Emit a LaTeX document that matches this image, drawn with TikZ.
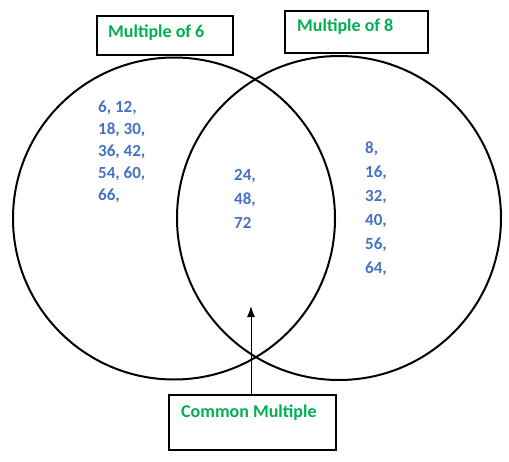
\documentclass[tikz,border=0pt]{standalone}
\usepackage{fontspec}
\setmainfont{Carlito}
\usetikzlibrary{arrows.meta}
\definecolor{grn}{HTML}{00B050}
\definecolor{blu}{HTML}{4472C4}
\tikzset{
  labelbox/.style={draw=black, line width=1.5pt, inner sep=0pt, anchor=north west},
  ring/.style={draw=black, line width=2pt, circle, inner sep=0pt},
  gtext/.style={text=grn, font=\fontsize{18}{20}\selectfont\bfseries, anchor=base west, inner sep=0pt},
  btext/.style={text=blu, font=\fontsize{17}{19}\selectfont\bfseries, anchor=base west, inner sep=0pt},
}
\begin{document}
\begin{tikzpicture}[x=1pt,y=-1pt]
\useasboundingbox (0,0) rectangle (509,461);
% circles
\node[ring, minimum size=322pt] (L) at (174,218.5) {};
\node[ring, minimum size=324pt] (R) at (339,218) {};
% boxes
\node[labelbox, minimum width=136pt, minimum height=39pt] (b6) at (96,15) {};
\node[labelbox, minimum width=143pt, minimum height=42pt] (b8) at (284,10) {};
\node[labelbox, minimum width=167pt, minimum height=55pt] (bc) at (168,394) {};
\node[gtext] (t6) at (108,37) {Multiple of 6};
\node[gtext] (t8) at (297,31) {Multiple of 8};
\node[gtext] (tc) at (181,417) {Common Multiple};
% left numbers
\node[btext] (l1) at (98,112) {6, 12,};
\node[btext] (l2) at (98,134) {18, 30,};
\node[btext] (l3) at (98,156) {36, 42,};
\node[btext] (l4) at (98,178) {54, 60,};
\node[btext] (l5) at (98,200) {66,};
% middle numbers
\node[btext] (m1) at (234,180) {24,};
\node[btext] (m2) at (234,204) {48,};
\node[btext] (m3) at (234,228) {72};
% right numbers
\node[btext] (r1) at (365,153) {8,};
\node[btext] (r2) at (365,177) {16,};
\node[btext] (r3) at (365,201) {32,};
\node[btext] (r4) at (365,225) {40,};
\node[btext] (r5) at (365,249) {56,};
\node[btext] (r6) at (365,273) {64,};
% arrow
\coordinate (tip) at (251,306);
\draw[line width=1pt, -{Latex[length=11pt,width=8pt]}] (bc.north -| tip) -- (tip);
\end{tikzpicture}
\end{document}
